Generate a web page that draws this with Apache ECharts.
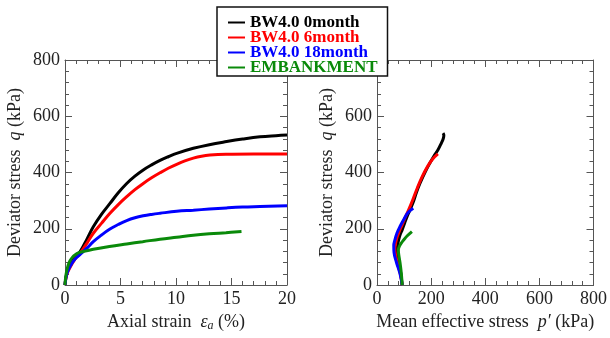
<!DOCTYPE html>
<html>
<head>
<meta charset="utf-8">
<script src="https://cdn.jsdelivr.net/npm/echarts@6/dist/echarts.min.js"></script>
<style>html,body{margin:0;padding:0;background:#fff}#c{width:610px;height:338px}</style>
</head>
<body>
<div id="c"></div>
<script>
// ---- data ----
var seriesNames = ['BW4.0 0month', 'BW4.0 6month', 'BW4.0 18month', 'EMBANKMENT'];
var seriesColors = ['#000000', '#ff0000', '#0000ff', '#0a8a0a'];

// Axial strain (%) vs deviator stress q (kPa)
var strain0 = [0, 0.15, 0.45, 0.9, 1.35, 2.0, 2.55, 3.3, 4.05, 4.8, 5.56, 6.3, 7.05, 7.8, 8.56, 9.3, 10.06, 11.56, 13.0, 14.56, 16.0, 17.57, 19.0, 20.0];
var q0      = [0, 40, 70, 98, 118, 165, 207, 252, 290, 328, 361, 387, 409, 427, 443, 456, 468, 486, 499, 510, 519, 527, 531, 533];
var strain6 = [0, 0.15, 0.45, 0.9, 1.35, 2.0, 2.55, 3.3, 4.05, 4.8, 5.56, 6.3, 7.05, 7.8, 8.56, 9.3, 10.06, 10.8, 11.56, 12.3, 13.06, 14.5, 17.0, 20.0];
var q6      = [0, 35, 62, 92, 112, 150, 184, 220, 255, 286, 314, 339, 361, 381, 399, 415, 429, 441, 451, 458, 462, 465, 466, 466];
var strain18 = [0, 0.15, 0.45, 0.9, 1.35, 2.0, 2.55, 3.3, 4.05, 4.8, 5.56, 6.3, 7.05, 7.8, 8.56, 10.06, 11.56, 13.0, 14.56, 16.0, 17.57, 20.0];
var q18      = [0, 38, 66, 92, 108, 132, 154, 178, 199, 215, 229, 239, 246, 251, 255, 262, 266, 270, 274, 277, 279, 282];
var strainE = [0, 0.05, 0.15, 0.3, 0.45, 0.7, 0.9, 1.2, 1.65, 2.55, 4.0, 5.56, 7.0, 8.56, 10.06, 11.56, 13.0, 14.5, 15.9];
var qE      = [0, 25, 50, 72, 86, 100, 107, 114, 119, 127, 137, 146, 154, 163, 170, 177, 182, 186, 190];

// Mean effective stress p' (kPa) vs deviator stress q (kPa)
var p0 = [93, 88, 82, 76, 75, 77, 80, 86, 93, 102, 111, 122, 134, 146, 159, 177, 195, 210, 225, 237, 245, 247, 244];
var pq0 = [0, 40, 77, 110, 124, 145, 160, 180, 196, 220, 243, 267, 295, 330, 362, 400, 433, 458, 480, 503, 521, 533, 540];
var p6 = [93, 86, 76, 68, 66, 69, 74, 82, 92, 104, 118, 133, 149, 167, 186, 205, 225];
var pq6 = [0, 40, 77, 110, 130, 150, 170, 190, 212, 240, 270, 305, 345, 385, 420, 447, 466];
var p18 = [93, 85, 72, 63, 62, 66, 74, 86, 100, 115, 134];
var pq18 = [0, 40, 80, 115, 140, 160, 185, 210, 235, 258, 273];
var pE = [93, 90, 85, 80, 79, 84, 92, 100, 112, 129];
var pqE = [0, 40, 80, 110, 125, 140, 152, 162, 175, 190];

var strainTicks = [0, 20, 5];
var pTicks = [0, 800, 200];
var qTicks = [0, 800, 200];

function zip(a, b) { var r = []; for (var i = 0; i < a.length; i++) r.push([a[i], b[i]]); return r; }

var FONT = 'Liberation Serif';
var frameColor = '#555';

function mkAxis(type, gridIndex, range, pos, showLabel, extra) {
  var ax = {
    type: 'value', gridIndex: gridIndex, position: pos,
    min: range[0], max: range[1], interval: range[2],
    axisLine: { show: true, onZero: false, lineStyle: { color: frameColor, width: 1 } },
    axisTick: { show: true, inside: true, length: 7, lineStyle: { color: frameColor, width: 1 } },
    minorTick: { show: true, splitNumber: 5, length: 4, lineStyle: { color: frameColor, width: 1 } },
    splitLine: { show: false },
    axisLabel: { show: showLabel, color: '#222', fontFamily: FONT, fontSize: 18, margin: 5 }
  };
  if (extra) for (var k in extra) ax[k] = extra[k];
  return ax;
}

var nameRich = {
  n: { fontFamily: FONT, fontSize: 18, color: '#222' },
  i: { fontFamily: FONT, fontSize: 18, fontStyle: 'italic', color: '#222' },
  s: { fontFamily: FONT, fontSize: 12, fontStyle: 'italic', color: '#222', padding: [8, 0, 0, 0] }
};

var chart = echarts.init(document.getElementById('c'));
var grids = [
  { left: 65, top: 60, width: 222, height: 225 },
  { left: 377, top: 60, width: 221, height: 225 }
];

var option = {
  animation: false,
  backgroundColor: '#fff',
  grid: grids,
  xAxis: [
    mkAxis('x', 0, strainTicks, 'bottom', true, {
      name: '{n|Axial strain  }{i|ε}{s|a}{n| (%)}', nameLocation: 'middle', nameGap: 27,
      nameTextStyle: { rich: nameRich }
    }),
    mkAxis('x', 0, strainTicks, 'top', false),
    mkAxis('x', 1, pTicks, 'bottom', true, {
      name: '{n|Mean effective stress  }{i|p′}{n| (kPa)}', nameLocation: 'middle', nameGap: 27,
      nameTextStyle: { rich: nameRich }
    }),
    mkAxis('x', 1, pTicks, 'top', false)
  ],
  yAxis: [
    mkAxis('y', 0, qTicks, 'left', true, {
      name: '{n|Deviator stress  }{i|q}{n| (kPa)}', nameLocation: 'middle', nameGap: 41, nameRotate: 90,
      nameTextStyle: { rich: nameRich }
    }),
    mkAxis('y', 0, qTicks, 'right', false),
    mkAxis('y', 1, qTicks, 'left', true, {
      name: '{n|Deviator stress  }{i|q}{n| (kPa)}', nameLocation: 'middle', nameGap: 41, nameRotate: 90,
      nameTextStyle: { rich: nameRich }
    }),
    mkAxis('y', 1, qTicks, 'right', false)
  ],
  legend: {
    orient: 'vertical',
    left: 217, top: 7,
    padding: [7, 10, 0, 11],
    backgroundColor: '#fff',
    borderColor: '#111', borderWidth: 1.5,
    itemGap: -2, itemWidth: 17, itemHeight: 2,
    icon: 'rect',
    z: 10,
    textStyle: { fontFamily: FONT, fontSize: 17, fontWeight: 'bold', padding: [0, 0, 0, 0] },
    data: seriesNames.map(function (n, i) { return { name: n, textStyle: { color: seriesColors[i] } }; })
  },
  series: []
};

var leftData = [zip(strain0, q0), zip(strain6, q6), zip(strain18, q18), zip(strainE, qE)];
var rightData = [zip(p0, pq0), zip(p6, pq6), zip(p18, pq18), zip(pE, pqE)];
for (var i = 0; i < 4; i++) {
  option.series.push({
    name: seriesNames[i], type: 'line', xAxisIndex: 0, yAxisIndex: 0,
    data: leftData[i], showSymbol: false, symbol: 'none', smooth: 0.4,
    lineStyle: { color: seriesColors[i], width: 3 }, itemStyle: { color: seriesColors[i] }, z: 2 + i
  });
}
for (var j = 0; j < 4; j++) {
  option.series.push({
    name: seriesNames[j], type: 'line', xAxisIndex: 2, yAxisIndex: 2,
    data: rightData[j], showSymbol: false, symbol: 'none', smooth: 0.4,
    lineStyle: { color: seriesColors[j], width: 3 }, itemStyle: { color: seriesColors[j] }, z: 2 + j
  });
}
chart.setOption(option);
</script>
</body>
</html>
